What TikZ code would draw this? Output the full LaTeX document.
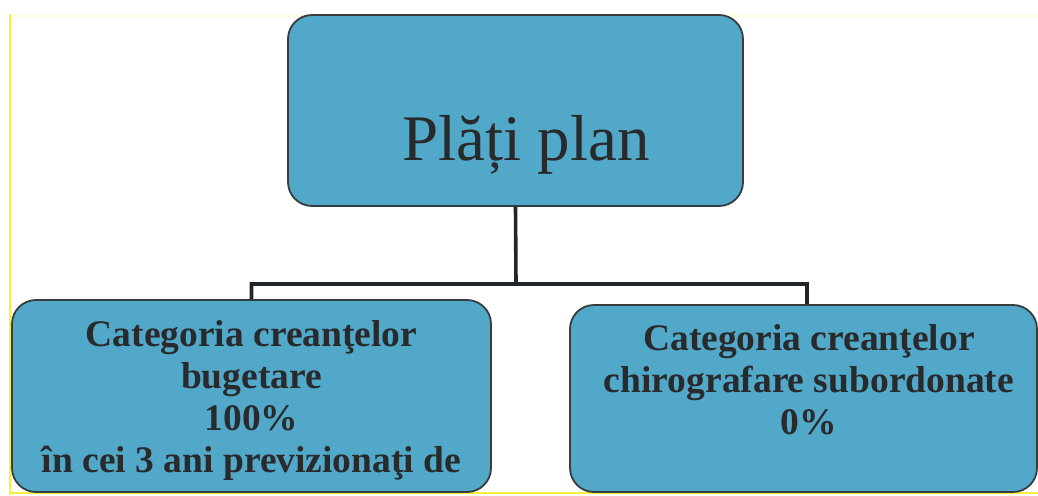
\documentclass[tikz,border=0pt]{standalone}
\usepackage{fontspec}
\setmainfont{Liberation Serif}
\definecolor{boxfill}{RGB}{82,168,200}
\definecolor{boxline}{RGB}{55,60,62}
\definecolor{connline}{RGB}{35,38,40}
\definecolor{txt}{RGB}{40,42,44}
\definecolor{yel}{RGB}{245,240,60}
\definecolor{yelfaint}{RGB}{255,253,215}
\begin{document}
\begin{tikzpicture}[x=1pt,y=-1pt,
  cbox/.style={draw=boxline, line width=1.8pt, fill=boxfill, rounded corners=24pt, inner sep=0pt},
  boxtext/.style={text=txt, align=center, inner sep=0pt, font=\bfseries\fontsize{37.5}{42}\selectfont},
  conn/.style={draw=connline, line width=3.6pt}]
\useasboundingbox (0,0) rectangle (1038,495);
\fill[white] (0,0) rectangle (1038,495);
% yellow frame
\draw[yelfaint, line width=2.5pt] (10,16) -- (1038,16);
\draw[yel, line width=2pt] (10,493) -- (1038,493);
\draw[yel, line width=2.5pt] (10,14) -- (10,495);
% boxes
\node[cbox, minimum width=455pt, minimum height=191pt] (top) at (515.5,110.5) {};
\node[cbox, minimum width=479pt, minimum height=192pt] (left) at (251.5,396) {};
\node[cbox, minimum width=467pt, minimum height=187pt] (right) at (803.5,398.5) {};
% connectors
\coordinate (bus) at (516,284);
\draw[conn] (top.south) -- (bus) -| (left.north);
\draw[conn] (bus) -| ([xshift=3.5pt]right.north);
% texts
\node[anchor=base, text=txt, inner sep=0pt, font=\fontsize{65}{70}\selectfont] (ttext) at (526,160) {Plăți plan};
\node[boxtext, anchor=north] (ltext) at (251.5,320) {Categoria creanţelor\\bugetare\\100\%\\în cei 3 ani previzionaţi de};
\node[boxtext, anchor=north] (rtext) at (809,324) {Categoria creanţelor\\chirografare subordonate\\0\%};
\end{tikzpicture}
\end{document}
